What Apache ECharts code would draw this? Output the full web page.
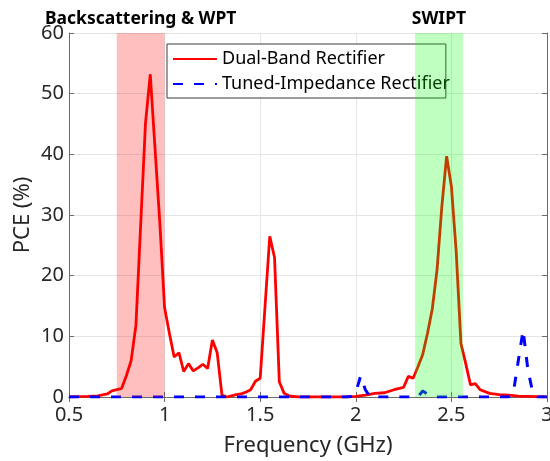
<!DOCTYPE html>
<html>
<head>
<meta charset="utf-8">
<script src="https://cdn.jsdelivr.net/npm/echarts@6/dist/echarts.min.js"></script>
<style>
html,body{margin:0;padding:0;background:#fff;}
#chart{width:550px;height:461px;}
</style>
</head>
<body>
<div id="chart"></div>
<script>
// ---- data ----
const seriesNames = ['Dual-Band Rectifier', 'Tuned-Impedance Rectifier'];

const redFreq = [0.5,0.55,0.6,0.65,0.7,0.725,0.75,0.775,0.8,0.825,0.85,0.875,0.9,0.925,0.95,0.975,1.0,1.025,1.05,1.075,1.1,1.125,1.15,1.175,1.2,1.225,1.25,1.275,1.3,1.325,1.35,1.375,1.4,1.425,1.45,1.475,1.5,1.55,1.575,1.6,1.625,1.65,1.7,1.75,1.8,1.85,1.9,1.95,2.0,2.05,2.1,2.15,2.2,2.25,2.275,2.3,2.325,2.35,2.375,2.4,2.425,2.45,2.475,2.5,2.525,2.55,2.575,2.6,2.625,2.65,2.7,2.75,2.8,2.85,2.9,2.95,3.0];
const redPCE  = [0,0.05,0.1,0.2,0.5,1.0,1.2,1.4,3.5,6.0,11.8,28.5,45.1,53.2,40.9,28.7,14.7,10.5,6.6,7.3,4.2,5.5,4.3,4.8,5.4,4.7,9.4,7.3,0.3,0,0.2,0.4,0.5,0.8,1.2,2.6,3.1,26.5,23.0,2.5,0.6,0.2,0,0,0,0,0,0,0.1,0.3,0.6,0.7,1.2,1.6,3.4,3.1,5.0,7.0,10.5,14.5,21.0,31.4,39.7,34.7,24.0,8.8,5.5,2.0,2.2,1.2,0.6,0.4,0.3,0.15,0.1,0.05,0];

const blueFreq = [0.5,1.95,1.975,2.0,2.025,2.05,2.075,2.325,2.35,2.375,2.4,2.425,2.8,2.825,2.85,2.875,2.9,2.925,2.95,3.0];
const bluePCE  = [0,0,0.1,0.8,3.4,1.2,0,0,1.0,0.5,0.2,0,0,0.9,6.0,11.0,4.5,0.8,0,0];

const bands = [
  {name: 'Backscattering & WPT', from: 0.75, to: 1.0, color: 'rgba(255,0,0,0.25)'},
  {name: 'SWIPT', from: 2.31, to: 2.56, color: 'rgba(0,255,0,0.25)'}
];

const xMin = 0.5, xMax = 3, xStep = 0.5;
const yMin = 0, yMax = 60, yStep = 10;
const xTitle = 'Frequency (GHz)';
const yTitle = 'PCE (%)';

// ---- chart ----
const FONT = 'Noto Sans';
const pairs = (xs, ys) => xs.map((x, i) => [x, ys[i]]);

const axisCommon = {
  axisLine: {show: true, lineStyle: {color: '#6b6b6b', width: 1}},
  axisTick: {show: true, inside: true, length: 5, lineStyle: {color: '#6b6b6b'}},
};

const chart = echarts.init(document.getElementById('chart'), null, {renderer: 'canvas'});
chart.setOption({
  animation: false,
  backgroundColor: '#fff',
  textStyle: {fontFamily: FONT},
  grid: {left: 69, right: 3, top: 33, bottom: 64, show: false, outerBoundsMode: 'none', containLabel: false},
  legend: {
    data: seriesNames,
    orient: 'vertical',
    left: 167, top: 44,
    z: 4,
    backgroundColor: '#fff',
    borderColor: '#3a3a3a',
    borderWidth: 1,
    borderRadius: 0,
    padding: [3, -4, 2, 5],
    itemWidth: 44,
    itemHeight: 14,
    itemGap: 1,
    itemStyle: {color: 'rgba(0,0,0,0)', borderColor: 'rgba(0,0,0,0)', borderWidth: 0, opacity: 0},
    textStyle: {fontFamily: FONT, fontSize: 18, lineHeight: 24, color: '#000'}
  },
  xAxis: [
    Object.assign({
      type: 'value', min: xMin, max: xMax, interval: xStep, position: 'bottom',
      name: xTitle, nameLocation: 'middle', nameGap: 38,
      nameTextStyle: {fontFamily: FONT, fontSize: 22, color: '#262626'},
      axisLabel: {fontFamily: FONT, fontSize: 20, color: '#262626', margin: 8},
      splitLine: {show: true, lineStyle: {color: '#e6e6e6', width: 1}}
    }, axisCommon),
    Object.assign({
      type: 'value', min: xMin, max: xMax, interval: xStep, position: 'top',
      axisLabel: {show: false}, splitLine: {show: false}
    }, axisCommon)
  ],
  yAxis: [
    Object.assign({
      type: 'value', min: yMin, max: yMax, interval: yStep, position: 'left',
      name: yTitle, nameLocation: 'middle', nameGap: 35, nameMoveOverlap: false,
      nameTextStyle: {fontFamily: FONT, fontSize: 22, color: '#262626'},
      axisLabel: {fontFamily: FONT, fontSize: 20, color: '#262626', margin: 5},
      splitLine: {show: true, lineStyle: {color: '#e6e6e6', width: 1}}
    }, axisCommon),
    Object.assign({
      type: 'value', min: yMin, max: yMax, interval: yStep, position: 'right',
      axisLabel: {show: false}, splitLine: {show: false}
    }, axisCommon)
  ],
  series: [
    {
      name: seriesNames[0], type: 'line', data: pairs(redFreq, redPCE),
      symbol: 'none', z: 2,
      lineStyle: {color: '#ff0000', width: 2.8},
      itemStyle: {color: '#ff0000'}
    },
    {
      name: seriesNames[1], type: 'line', data: pairs(blueFreq, bluePCE),
      symbol: 'none', z: 3,
      lineStyle: {color: '#0000ff', width: 3, type: [10, 11]},
      itemStyle: {color: '#0000ff'}
    },
    {
      name: 'bands', type: 'line', data: [], z: 10, clip: false,
      markArea: {
        z: 10,
        silent: true,
        data: bands.map(b => [
          {xAxis: b.from, yAxis: yMax, itemStyle: {color: b.color},
           label: {show: true, position: 'top', distance: 5, formatter: b.name,
                   fontFamily: FONT, fontSize: 17.5, fontWeight: 'bold', color: '#000'}},
          {xAxis: b.to, yAxis: yMin}
        ])
      }
    }
  ]
});
</script>
</body>
</html>
